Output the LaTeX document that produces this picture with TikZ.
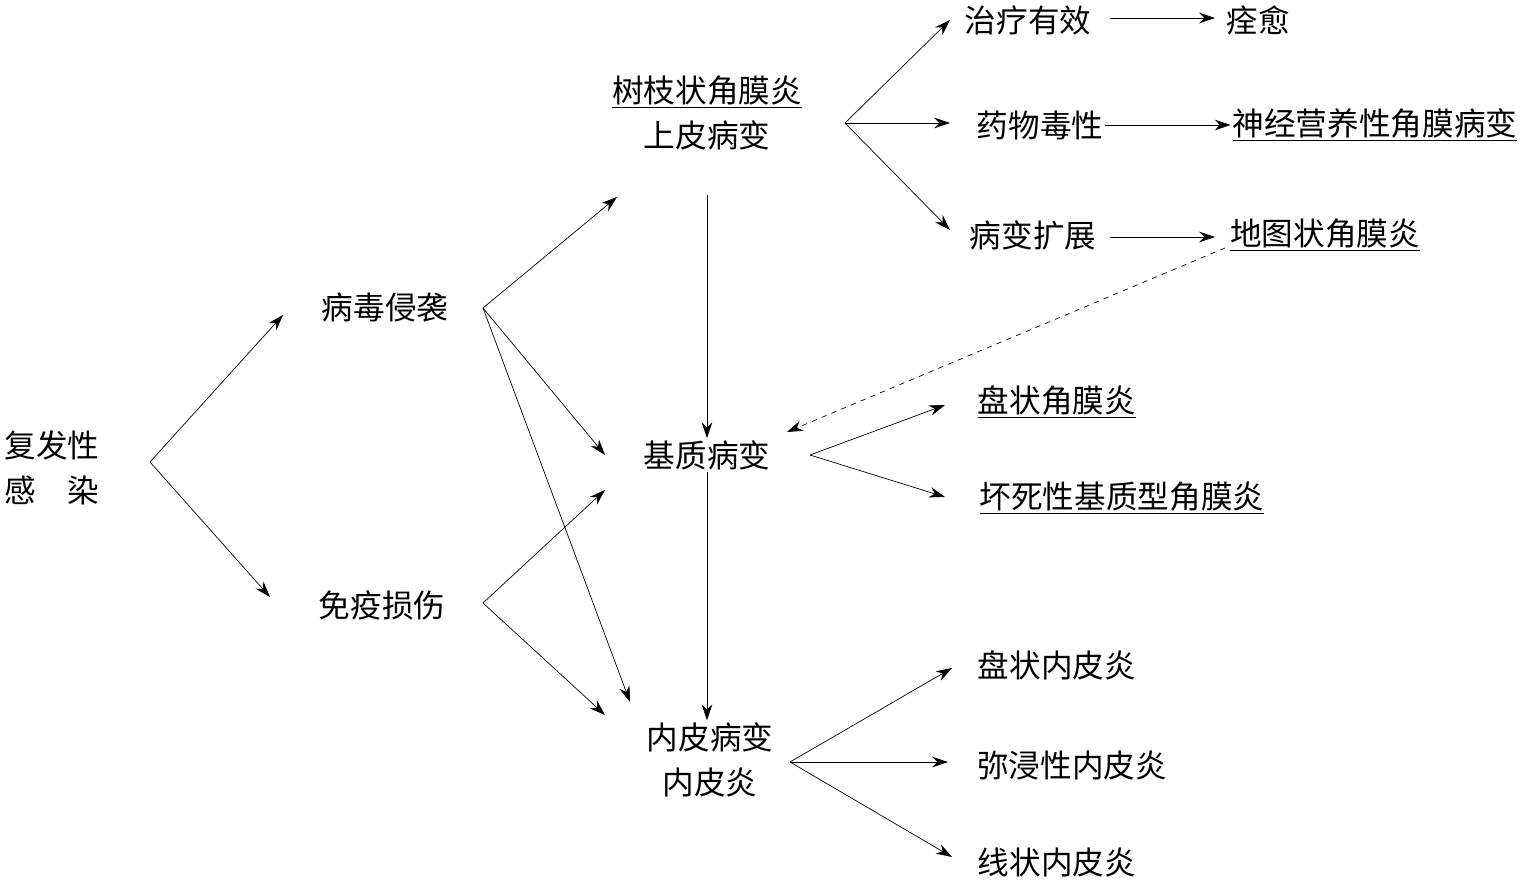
\documentclass[tikz,border=0pt]{standalone}
\usepackage{fontspec}
\setmainfont{Noto Sans CJK SC}
\usetikzlibrary{arrows.meta}
\begin{document}
\begin{tikzpicture}[x = 0.02cm, y = -0.02cm,
  txt/.style = {inner sep = 1pt, font = \fontsize{18}{26}\selectfont, align = center},
  arr/.style = {-{Stealth[length = 9pt, width = 6pt]}, thin}]
\useasboundingbox (0, 0) rectangle (1527, 882);
% nodes
\node[txt] (fufa) at (52, 468) {复发性\\感\hspace{1em}染};
\node[txt] (bingdu) at (385, 308) {病毒侵袭};
\node[txt] (mianyi) at (382, 605) {免疫损伤};
\node[txt] (shuzhi) at (707, 113) {\underline{树枝状角膜炎}\\上皮病变};
\node[txt] (jizhi) at (707, 455) {基质病变};
\node[txt] (neipi) at (710, 760) {内皮病变\\内皮炎};
\node[txt] (zhiliao) at (1028, 20) {治疗有效};
\node[txt] (quanyu) at (1258, 20) {痊愈};
\node[txt] (yaowu) at (1040, 125) {药物毒性};
\node[txt] (shenjing) at (1375, 125) {\underline{神经营养性角膜病变}};
\node[txt] (kuozhan) at (1033, 235) {病变扩展};
\node[txt] (ditu) at (1325, 235) {\underline{地图状角膜炎}};
\node[txt] (panzhuang) at (1057, 402) {\underline{盘状角膜炎}};
\node[txt] (huaisi) at (1122, 498) {\underline{坏死性基质型角膜炎}};
\node[txt] (pannei) at (1057, 665) {盘状内皮炎};
\node[txt] (mijin) at (1072, 765) {弥浸性内皮炎};
\node[txt] (xianzhuang) at (1057, 862) {线状内皮炎};
% branch points
\coordinate (f0) at (150, 462);
\coordinate (b0) at (483, 308);
\coordinate (m0) at (483, 603);
\coordinate (s0) at (845, 123);
\coordinate (j0) at (810, 455);
\coordinate (n0) at (790, 762);
% connectors
\draw[arr] (f0) -- (283, 315);
\draw[arr] (f0) -- (270, 597);
\draw[arr] (b0) -- (617, 197);
\draw[arr] (b0) -- (605, 455);
\draw[arr] (b0) -- (630, 702);
\draw[arr] (m0) -- (605, 490);
\draw[arr] (m0) -- (605, 715);
\draw[arr] (707, 195) -- (jizhi.north);
\draw[arr] (jizhi.south) -- (jizhi.south |- neipi.north);
\draw[arr] (s0) -- (950, 20);
\draw[arr] (s0) -- (950, 123);
\draw[arr] (s0) -- (950, 230);
\draw[arr] (1110, 18) -- (1215, 18);
\draw[arr] (yaowu.east) -- (yaowu.east -| shenjing.west);
\draw[arr] (1110, 237) -- (1215, 237);
\draw[arr, dashed] (1225, 248) -- (787, 432);
\draw[arr] (j0) -- (945, 405);
\draw[arr] (j0) -- (945, 497);
\draw[arr] (n0) -- (952, 668);
\draw[arr] (n0) -- (948, 762);
\draw[arr] (n0) -- (952, 857);
\end{tikzpicture}
\end{document}
